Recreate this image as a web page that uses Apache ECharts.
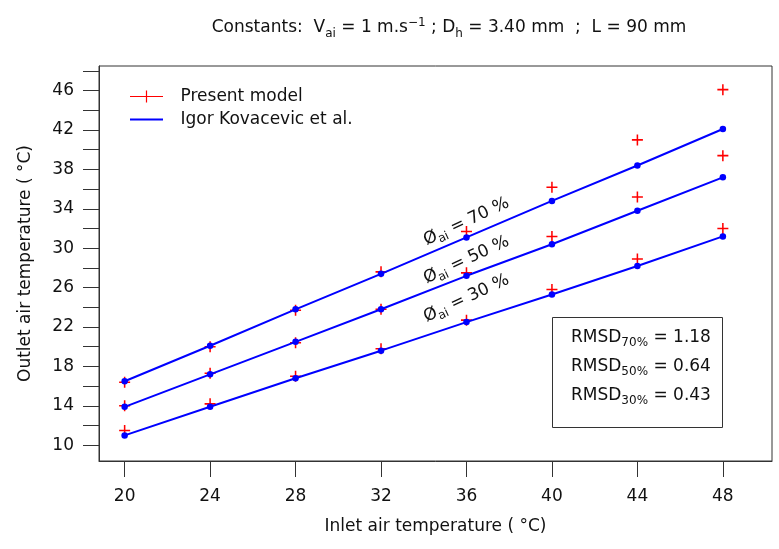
<!DOCTYPE html>
<html><head><meta charset="utf-8">
<script src="https://cdn.jsdelivr.net/npm/echarts@6/dist/echarts.min.js"></script>
<style>html,body{margin:0;padding:0;background:#fff}#c{width:779px;height:549px}</style>
</head><body><div id="c"></div>
<script>
// ---- data ----
const inletTemp = [20, 24, 28, 32, 36, 40, 44, 48];
const igor70  = [16.5, 20.1, 23.8, 27.4, 31.1, 34.8, 38.4, 42.1];
const igor50  = [13.9, 17.2, 20.5, 23.8, 27.2, 30.4, 33.8, 37.2];
const igor30  = [11.0, 13.9, 16.8, 19.6, 22.5, 25.3, 28.2, 31.2];
const model70 = [16.4, 20.0, 23.7, 27.6, 31.7, 36.2, 41.0, 46.1];
const model50 = [14.0, 17.3, 20.4, 23.8, 27.5, 31.2, 35.2, 39.4];
const model30 = [11.5, 14.2, 17.0, 19.8, 22.7, 25.8, 28.9, 32.0];
const xTickValues = [20, 24, 28, 32, 36, 40, 44, 48];
const yTickValues = [10, 12, 14, 16, 18, 20, 22, 24, 26, 28, 30, 32, 34, 36, 38, 40, 42, 44, 46, 48];
const yLabelValues = [10, 14, 18, 22, 26, 30, 34, 38, 42, 46];
const humidityLevels = ['70', '50', '30'];
const annotX = [36.0, 36.0, 36.0];
const annotY = [32.7, 28.8, 24.9];
const rmsdLevels = ['70%', '50%', '30%'];
const rmsdValues = ['1.18', '0.64', '0.43'];

// ---- styles ----
const FONT = 'DejaVu Sans';
const FS = 17;
const AX = '#333';
const TXT = '#111';
const RED = '#ff0000';
const BLUE = '#0000ff';
const plusPath = 'path://M4.3,0H5.7V10H4.3Z M0,4.3H10V5.7H0Z';

const chart = echarts.init(document.getElementById('c'), null, {renderer: 'canvas'});
const toPairs = arr => inletTemp.map((x, i) => [x, arr[i]]);

const modelSets = [model70, model50, model30];
const igorSets = [igor70, igor50, igor30];

const series = [];
modelSets.forEach(d => series.push({
  name: 'Present model', type: 'scatter', data: toPairs(d),
  symbol: plusPath, symbolSize: 11, itemStyle: {color: RED, opacity: 1}, z: 2, silent: true
}));
igorSets.forEach(d => series.push({
  name: 'Igor Kovacevic et al.', type: 'line', data: toPairs(d),
  symbol: 'circle', symbolSize: 6.5, showAllSymbol: true,
  lineStyle: {color: BLUE, width: 2}, itemStyle: {color: BLUE, opacity: 1}, z: 3, silent: true
}));
series.push({
  type: 'scatter', silent: true, z: 4,
  data: annotX.map((x, i) => ({value: [x, annotY[i]], lvl: humidityLevels[i]})),
  symbol: 'circle', symbolSize: 1, itemStyle: {color: 'rgba(0,0,0,0)', opacity: 1},
  label: {
    show: true, position: 'inside', rotate: 25, opacity: 1,
    formatter: p => '{a|Ø}{s|ai}{a| = ' + p.data.lvl + ' %}',
    rich: {
      a: {fontFamily: FONT, fontSize: FS, color: TXT, lineHeight: 22},
      s: {fontFamily: FONT, fontSize: 12, color: TXT, lineHeight: 12, padding: [10, 0, 0, 0]}
    }
  }
});

const rmsdGraphics = rmsdLevels.map((lv, i) => ({
  type: 'text', x: 571, y: 338 + i * 29,
  style: {
    text: '{a|RMSD}{s|' + lv + '}{a| = ' + rmsdValues[i] + '}',
    verticalAlign: 'middle', align: 'left',
    rich: {
      a: {fontFamily: FONT, fontSize: FS, fill: TXT, lineHeight: 22},
      s: {fontFamily: FONT, fontSize: 12, fill: TXT, lineHeight: 12, padding: [10, 0, 0, 0]}
    }
  }
}));

chart.setOption({
  animation: false,
  backgroundColor: '#fff',
  title: {
    left: 444, top: 11, textAlign: 'center',
    text: '{t|Constants:  V}{sub|ai}{t| = 1 m.s}{sup|−1}{t| ; D}{sub|h}{t| = 3.40 mm  ;  L = 90 mm}',
    textStyle: {
      fontWeight: 'normal',
      rich: {
        t: {fontFamily: FONT, fontSize: FS, fontWeight: 'normal', color: TXT, lineHeight: 24},
        sub: {fontFamily: FONT, fontSize: 12, fontWeight: 'normal', color: TXT, lineHeight: 12, padding: [11, 0, 0, 0]},
        sup: {fontFamily: FONT, fontSize: 12, fontWeight: 'normal', color: TXT, lineHeight: 12, padding: [0, 0, 11, 0]}
      }
    }
  },
  legend: {
    orient: 'vertical', left: 130, top: 86, padding: 0,
    itemWidth: 34, itemHeight: 12, itemGap: 2,
    selectedMode: false,
    textStyle: {fontFamily: FONT, fontSize: FS, color: TXT, lineHeight: 21, padding: [0, 0, 0, 12]},
    data: [
      {name: 'Present model', icon: 'path://M0,5.4H33V6.6H0Z M15.9,0H17.1V12H15.9Z', itemStyle: {color: RED, opacity: 1}},
      {name: 'Igor Kovacevic et al.', icon: 'path://M0,0H0.01V0.01H0Z M0,11.99H0.01V12H0Z M0,5.1H33V6.9H0Z', itemStyle: {color: BLUE, opacity: 1}}
    ]
  },
  grid: {left: 99, right: 7, top: 66, bottom: 88, show: true, borderColor: AX, borderWidth: 1, backgroundColor: 'transparent'},
  xAxis: {
    type: 'value', min: 18.8, max: 50.3,
    name: 'Inlet air temperature ( °C)', nameLocation: 'middle', nameGap: 57,
    nameTextStyle: {fontFamily: FONT, fontSize: FS, color: TXT, lineHeight: 17},
    axisLine: {show: true, lineStyle: {color: AX, width: 1}},
    axisTick: {show: true, length: 16, customValues: xTickValues, lineStyle: {color: AX}},
    axisLabel: {customValues: xTickValues, margin: 27, fontFamily: FONT, fontSize: FS, color: TXT, lineHeight: 17},
    splitLine: {show: false}
  },
  yAxis: {
    type: 'value', min: 8.4, max: 48.5,
    name: 'Outlet air temperature ( °C)', nameLocation: 'middle', nameGap: 65,
    nameTextStyle: {fontFamily: FONT, fontSize: FS, color: TXT, lineHeight: 17},
    axisLine: {show: true, lineStyle: {color: AX, width: 1}},
    axisTick: {show: true, length: 16, customValues: yTickValues, lineStyle: {color: AX}},
    axisLabel: {customValues: yLabelValues, margin: 25, fontFamily: FONT, fontSize: FS, color: TXT},
    splitLine: {show: false}
  },
  graphic: [
    {type: 'rect', shape: {x: 552.5, y: 317.5, width: 170, height: 110}, style: {fill: 'none', stroke: AX, lineWidth: 1}}
  ].concat(rmsdGraphics),
  series: series
});
</script></body></html>
